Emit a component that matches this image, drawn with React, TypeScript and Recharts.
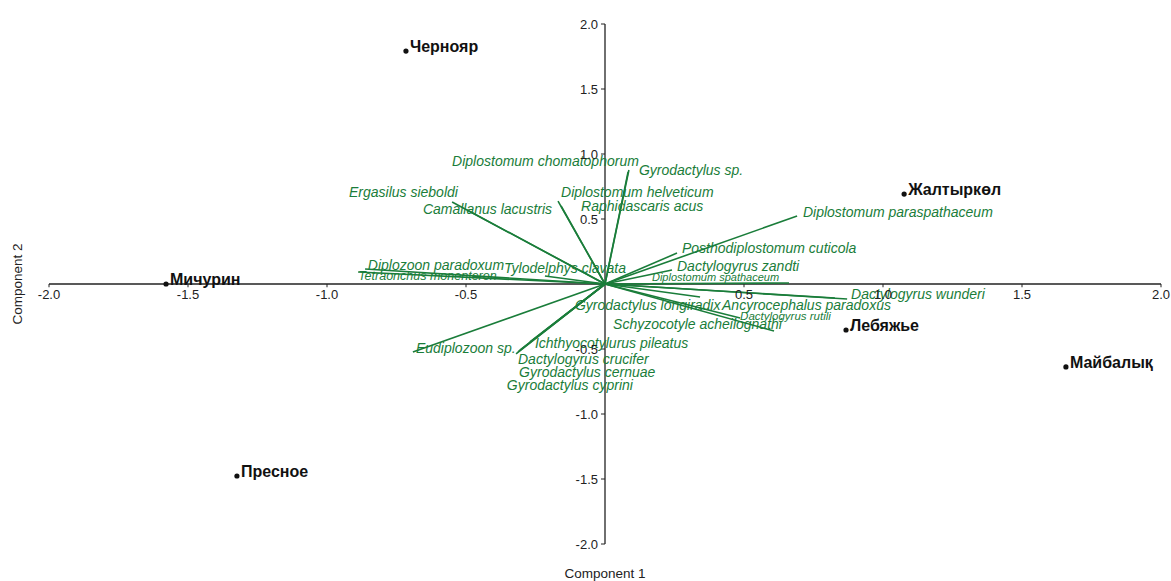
import React from 'react';
import { ScatterChart, Scatter, XAxis, YAxis, ReferenceLine } from 'recharts';

// ---- data (PCA biplot, Component 1 vs Component 2) ----
const SPECIES = [
  'Diplostomum chomatophorum',
  'Gyrodactylus sp.',
  'Ergasilus sieboldi',
  'Diplostomum helveticum',
  'Raphidascaris acus',
  'Camallanus lacustris',
  'Diplostomum paraspathaceum',
  'Posthodiplostomum cuticola',
  'Diplozoon paradoxum',
  'Tetraonchus monenteron',
  'Tylodelphys clavata',
  'Dactylogyrus zandti',
  'Diplostomum spathaceum',
  'Dactylogyrus wunderi',
  'Gyrodactylus longiradix',
  'Ancyrocephalus paradoxus',
  'Dactylogyrus rutili',
  'Schyzocotyle acheilognathi',
  'Eudiplozoon sp.',
  'Ichthyocotylurus pileatus',
  'Dactylogyrus crucifer',
  'Gyrodactylus cernuae',
  'Gyrodactylus cyprini',
];
// vector end points (loadings)
const VEC_X = [0.083, 0.086, -0.55, -0.169, -0.158, -0.496, 0.691, 0.259, -0.863, -0.888, -0.216, 0.241, 0.662, 0.871, 0.342, 0.827, 0.486, 0.608, -0.691, -0.27, -0.313, -0.306, -0.32];
const VEC_Y = [0.862, 0.877, 0.631, 0.638, 0.6, 0.569, 0.523, 0.238, 0.115, 0.092, 0.062, 0.108, 0.008, -0.115, -0.1, -0.108, -0.262, -0.362, -0.523, -0.446, -0.523, -0.508, -0.538];
// label anchor points (start of text, vertical centre)
const LABEL_X = [-0.55, 0.122, -0.921, -0.158, -0.086, -0.655, 0.712, 0.277, -0.853, -0.888, -0.363, 0.259, 0.169, 0.885, -0.108, 0.421, 0.486, 0.029, -0.68, -0.252, -0.313, -0.309, -0.353];
const LABEL_Y = [0.948, 0.877, 0.708, 0.708, 0.6, 0.577, 0.554, 0.277, 0.146, 0.062, 0.123, 0.138, 0.054, -0.077, -0.162, -0.162, -0.246, -0.308, -0.492, -0.454, -0.577, -0.677, -0.777];
const LABEL_SIZE: Record<string, number> = {
  'Diplostomum spathaceum': 11,
  'Tetraonchus monenteron': 12.5,
  'Dactylogyrus rutili': 11.5,
};

const SITES = ['Чернояр', 'Жалтыркөл', 'Мичурин', 'Лебяжье', 'Майбалық', 'Пресное'];
const SITE_X = [-0.716, 1.076, -1.579, 0.867, 1.658, -1.324];
const SITE_Y = [1.792, 0.692, 0.0, -0.354, -0.638, -1.477];

const X_TICKS = [-2, -1.5, -1, -0.5, 0.5, 1, 1.5, 2];
const X_TICK_LABELS = ['-2.0', '-1.5', '-1.0', '-0.5', '0.5', '1.0', '1.5', '2.0'];
const Y_TICKS = [2, 1.5, 1, 0.5, -0.5, -1, -1.5, -2];
const Y_TICK_LABELS = ['2.0', '1.5', '1.0', '0.5', '-0.5', '-1.0', '-1.5', '-2.0'];

const GREEN = '#1a7d3a';
const AXIS = '#222';

const labelData = SPECIES.map((name, i) => ({ name, x: LABEL_X[i], y: LABEL_Y[i] }));
const siteData = SITES.map((name, i) => ({ name, x: SITE_X[i], y: SITE_Y[i] }));

const SpeciesLabel = (props: any) => {
  const { cx, cy, payload } = props;
  const size = LABEL_SIZE[payload.name] ?? 14;
  return (
    <text x={cx} y={cy} dy="0.36em" fill={GREEN} fontStyle="italic" fontSize={size}>
      {payload.name}
    </text>
  );
};

const SiteMark = (props: any) => {
  const { cx, cy, payload } = props;
  return (
    <g>
      <circle cx={cx} cy={cy} r={2.6} fill="#111" />
      <text x={cx + 4} y={cy + 1} fill="#111" fontWeight="bold" fontSize={16}>
        {payload.name}
      </text>
    </g>
  );
};

export default function App() {
  return (
    <div
      style={{
        position: 'absolute',
        left: 0,
        top: 0,
        width: 1171,
        height: 581,
        background: '#fff',
        fontFamily: '"Liberation Sans", Arial, sans-serif',
      }}
    >
      <ScatterChart width={1171} height={581} margin={{ top: 24, right: 10, bottom: 0, left: 0 }}>
        <XAxis
          type="number"
          dataKey="x"
          domain={[-2, 2]}
          allowDataOverflow
          axisLine={false}
          tickLine={false}
          tick={false}
          height={37}
          label={{ value: 'Component 1', position: 'insideBottom', offset: 3, fill: AXIS, fontSize: 13.5 }}
        />
        <YAxis
          type="number"
          dataKey="y"
          domain={[-2, 2]}
          allowDataOverflow
          axisLine={false}
          tickLine={false}
          tick={false}
          width={49}
          label={{
            value: 'Component 2',
            angle: -90,
            position: 'insideLeft',
            offset: 17,
            fill: AXIS,
            fontSize: 13.5,
            style: { textAnchor: 'middle' },
          }}
        />
        {/* axes through the origin */}
        <ReferenceLine segment={[{ x: -2, y: 0 }, { x: 2, y: 0 }]} stroke={AXIS} strokeWidth={1.3} ifOverflow="visible" />
        <ReferenceLine segment={[{ x: 0, y: -2 }, { x: 0, y: 2 }]} stroke={AXIS} strokeWidth={1.3} ifOverflow="visible" />
        {X_TICKS.map((v, i) => (
          <ReferenceLine
            key={'xt' + i}
            segment={[{ x: v, y: 0 }, { x: v, y: -0.025 }]}
            stroke={AXIS}
            strokeWidth={1}
            ifOverflow="visible"
            label={{ value: X_TICK_LABELS[i], position: 'bottom', offset: 3, fill: AXIS, fontSize: 13 }}
          />
        ))}
        {Y_TICKS.map((v, i) => (
          <ReferenceLine
            key={'yt' + i}
            segment={[{ x: -0.0144, y: v }, { x: 0, y: v }]}
            stroke={AXIS}
            strokeWidth={1}
            ifOverflow="visible"
            label={{ value: Y_TICK_LABELS[i], position: 'left', offset: 3, fill: AXIS, fontSize: 13 }}
          />
        ))}
        {/* species vectors */}
        {SPECIES.map((s, i) => (
          <ReferenceLine
            key={'v' + i}
            segment={[{ x: 0, y: 0 }, { x: VEC_X[i], y: VEC_Y[i] }]}
            stroke={GREEN}
            strokeWidth={1.6}
            ifOverflow="visible"
          />
        ))}
        <Scatter data={labelData} shape={SpeciesLabel} isAnimationActive={false} />
        <Scatter data={siteData} shape={SiteMark} isAnimationActive={false} />
      </ScatterChart>
    </div>
  );
}
